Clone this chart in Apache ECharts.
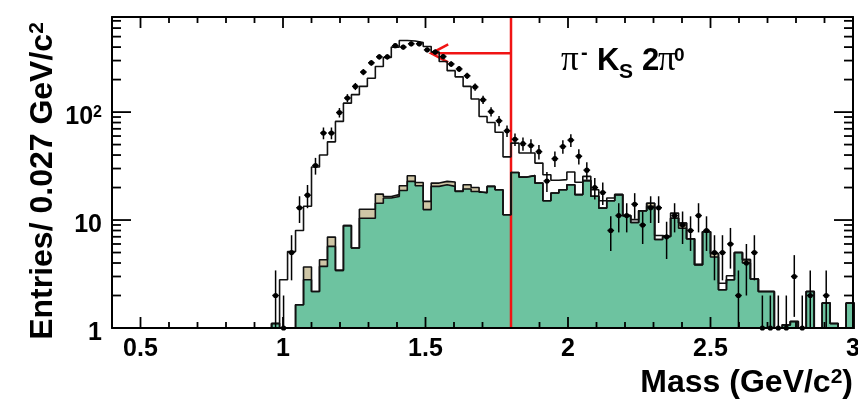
<!DOCTYPE html>
<html><head><meta charset="utf-8">
<script src="https://cdn.jsdelivr.net/npm/echarts@6/dist/echarts.min.js"></script>
<style>html,body{margin:0;padding:0;background:#fff}#c{width:858px;height:402px}</style>
</head><body><div id="c"></div>
<script>
// ---- binning ----
const BIN_START = 0.4;
const BIN_WIDTH = 0.028;
const FIRST_BIN = 20;          // index of first listed bin
// ---- values per bin (bins FIRST_BIN .. FIRST_BIN+72) ----
const dataCounts = [2,1,5,13,17,32,64,64,99,135,
  173,235,286,325,325,412,400,429,429,377,
  360,327,279,251,217,171,130,101,83,67,
  56,51,49,43,23,37,48,55,39,29,
  20,18,8,11,11,14,9,13,13,7,
  11,9,8,11,8,5,5,6,2,4,
  5,1,1,1,1,3,1,2,0,2,
  0,0,0];
const mcTotal = [1.1,2.8,5.1,8.0,13.4,31,40,53,82,121,
  145,173,206,264,320,400,460,456,440,405,
  360,294,242,212,173,132,91,80,65,38.5,
  51.6,41.8,41.8,33.7,26.3,23.4,23.7,27.9,22.4,25.4,
  19.1,15.1,16.0,17.2,11.0,10.1,12.2,14.3,7.2,7.05,
  11.6,9.4,6.7,3.86,7.8,4.9,2.6,3.05,5.0,4.3,
  2.84,2.18,2.18,0,1.07,1.15,0,2.18,0,1.7,
  1.1,0,1.7];
const bkgGreen = [1.1,0,0,1.64,2.8,2.18,3.72,5.7,3.42,8.88,
  5.5,10.4,10.4,14.3,16.0,16.5,18.8,22.8,20.8,12.5,
  20.5,21.2,20.5,18.4,19.4,18.4,17.8,20.5,19.1,11.2,
  27.6,25.0,25.8,22.0,15.1,17.8,19.1,21.2,17.2,23.2,
  16.6,12.9,15.1,17.2,11.0,9.5,12.2,13.4,6.6,7.05,
  10.4,8.4,6.7,3.86,7.8,4.54,2.26,2.8,5.0,4.0,
  2.84,2.18,2.18,0,1.07,1.15,0,2.18,0,1.7,
  1.1,0,1.7];
const bkgTan = [0,0,0,0,0.87,0,0.57,1.25,0,0,
  0,2.2,2.2,3.1,0.5,0.7,2.0,2.9,1.5,2.4,
  1.5,1.6,2.0,0.2,1.8,1.6,0.3,0,0,0,
  0,0,0,0,0,0,0,0,0,0,
  0,0,0,0,0,0,0,0.9,0,0,
  0,1.0,0,0,0,0.36,0,0,0,0.3,
  0,0,0,0,0,0,0,0,0,0,
  0,0,0];
// ---- axes ----
const X_MIN = 0.4, X_MAX = 3.0, Y_MIN = 1, Y_MAX = 760;
const xMajorTicks = [0.5, 1, 1.5, 2, 2.5, 3];
const xMinorTicks = [0.4,0.6,0.7,0.8,0.9,1.1,1.2,1.3,1.4,1.6,1.7,1.8,1.9,2.1,2.2,2.3,2.4,2.6,2.7,2.8,2.9];
const yMajorTicks = [1, 10, 100];
const yMinorTicks = [2,3,4,5,6,7,8,9,20,30,40,50,60,70,80,90,200,300,400,500,600,700];
// ---- annotation ----
const CUT_MASS = 1.8;
const ARROW_END = 1.52;
const ARROW_LEVEL = 350;

const FONT = 'Liberation Sans';
const FLOOR = 0.1; // empty bins are drawn below the frame bottom (clipped)

function edge(j) { return +(BIN_START + j * BIN_WIDTH).toFixed(4); }
function histPath(vals) {
  const pts = [[edge(FIRST_BIN), FLOOR]];
  vals.forEach((v, i) => {
    const y = v > 0 ? v : FLOOR;
    pts.push([edge(FIRST_BIN + i), y], [edge(FIRST_BIN + i + 1), y]);
  });
  pts.push([edge(FIRST_BIN + vals.length), FLOOR]);
  return pts;
}
const tanTop = bkgGreen.map((g, i) => g + bkgTan[i]);

function histSeries(vals, fill) {
  const s = { type: 'line', data: histPath(vals), symbol: 'none', showSymbol: false, clip: true,
    silent: true, animation: false, lineStyle: { color: '#111', width: 1.6 } };
  if (fill) s.areaStyle = { color: fill, origin: 'start', opacity: 1 };
  return s;
}

const pointData = [];
dataCounts.forEach((n, i) => {
  if (n > 0) pointData.push([edge(FIRST_BIN + i) + BIN_WIDTH / 2, n, Math.sqrt(n)]);
});

function xAx(pos, withLabels) {
  return { type: 'value', min: X_MIN, max: X_MAX, position: pos, z: 10,
    axisLine: { show: true, onZero: false, lineStyle: { color: '#000', width: 2 } },
    axisTick: { show: false },
    axisLabel: withLabels ? { show: true, customValues: xMajorTicks, margin: 9,
      fontFamily: FONT, fontWeight: 'bold', fontSize: 25, color: '#000',
      formatter: v => String(v) } : { show: false },
    splitLine: { show: false } };
}
function yAx(pos, withLabels) {
  return { type: 'log', logBase: 10, min: Y_MIN, max: Y_MAX, position: pos, z: 10,
    axisLine: { show: true, onZero: false, lineStyle: { color: '#000', width: 2 } },
    axisTick: { show: false },
    axisLabel: withLabels ? { show: true, customValues: yMajorTicks, margin: 10, padding: [10, 0, 0, 0],
      formatter: v => { const p = Math.round(Math.log10(v)); return p >= 2 ? '{n|10}{s|' + p + '}' : '{n|' + Math.round(v) + '}'; },
      rich: { n: { fontFamily: FONT, fontWeight: 'bold', fontSize: 25, color: '#000' },
              s: { fontFamily: FONT, fontWeight: 'bold', fontSize: 16, color: '#000', verticalAlign: 'top' } } } : { show: false },
    splitLine: { show: false } };
}

const titleRich = {
  a: { fontFamily: FONT, fontWeight: 'bold', fontSize: 32, fill: '#000', color: '#000' },
  s: { fontFamily: FONT, fontWeight: 'bold', fontSize: 21, fill: '#000', color: '#000', verticalAlign: 'top' }
};

// one decoration series: inward frame ticks on all four sides + the red cut line and arrow
function decorItem(params, api) {
  const ch = [];
  const tk = { stroke: '#000', lineWidth: 1.8 };
  const xt = (ticks, len) => ticks.forEach(v => {
    const b = api.coord([v, Y_MIN]), t = api.coord([v, Y_MAX]);
    ch.push({ type: 'line', shape: { x1: b[0], y1: b[1], x2: b[0], y2: b[1] - len }, style: tk });
    ch.push({ type: 'line', shape: { x1: t[0], y1: t[1], x2: t[0], y2: t[1] + len }, style: tk });
  });
  const yt = (ticks, len) => ticks.forEach(v => {
    const l = api.coord([X_MIN, v]), r = api.coord([X_MAX, v]);
    ch.push({ type: 'line', shape: { x1: l[0], y1: l[1], x2: l[0] + len, y2: l[1] }, style: tk });
    ch.push({ type: 'line', shape: { x1: r[0], y1: r[1], x2: r[0] - len, y2: r[1] }, style: tk });
  });
  xt(xMajorTicks, 11); xt(xMinorTicks, 6);
  yt(yMajorTicks, 19); yt(yMinorTicks, 9);
  const x = api.value(0), lvl = api.value(1), xe = api.value(2);
  const b = api.coord([x, Y_MIN]), t = api.coord([x, Y_MAX]);
  const a0 = api.coord([x, lvl]), a1 = api.coord([xe, lvl]);
  const st = { stroke: '#f01414', lineWidth: 2.5, fill: null };
  ch.push({ type: 'line', shape: { x1: b[0], y1: b[1], x2: t[0], y2: t[1] }, style: st });
  ch.push({ type: 'line', shape: { x1: a0[0], y1: a0[1], x2: a1[0], y2: a1[1] }, style: st });
  ch.push({ type: 'polyline', shape: { points: [[a1[0] + 17, a1[1] - 9], [a1[0], a1[1]], [a1[0] + 17, a1[1] + 9]] }, style: st });
  return { type: 'group', children: ch };
}

const option = {
  animation: false,
  backgroundColor: '#fff',
  grid: { left: 112, right: 5, top: 17, bottom: 74, containLabel: false, outerBoundsMode: 'none' },
  xAxis: [ xAx('bottom', true), xAx('top', false) ],
  yAxis: [ yAx('left', true), yAx('right', false) ],
  series: [
    histSeries(mcTotal, null),
    histSeries(tanTop, '#cfc6a6'),
    histSeries(bkgGreen, '#6dc3a0'),
    { type: 'custom', animation: false, z: 3, data: [[CUT_MASS, ARROW_LEVEL, ARROW_END]], renderItem: decorItem },
    { type: 'custom', animation: false, z: 4,
      data: pointData,
      renderItem: (params, api) => {
        const x = api.value(0), n = api.value(1), e = api.value(2);
        const c = api.coord([x, n]);
        const top = api.coord([x, Math.min(n + e, Y_MAX)]);
        const bot = api.coord([x, Math.max(n - e, Y_MIN)]);
        const l = api.coord([x - BIN_WIDTH * 0.42, n]), r = api.coord([x + BIN_WIDTH * 0.42, n]);
        const st = { stroke: '#000', lineWidth: 1.5 };
        return { type: 'group', children: [
          { type: 'line', shape: { x1: c[0], y1: top[1], x2: c[0], y2: bot[1] }, style: st },
          { type: 'line', shape: { x1: l[0], y1: c[1], x2: r[0], y2: c[1] }, style: st },
          { type: 'circle', shape: { cx: c[0], cy: c[1], r: 2.6 }, style: { fill: '#000' } }
        ] };
      } }
  ],
  graphic: [
    { type: 'text', x: 43, y: 181, rotation: Math.PI / 2, z: 20,
      style: { text: '{a|Entries/ 0.027 GeV/c}{s|2}', rich: titleRich, align: 'center', verticalAlign: 'middle' } },
    { type: 'text', x: 853, y: 383, z: 20,
      style: { text: '{a|Mass (GeV/c}{s|2}{a|)}', rich: titleRich, align: 'right', verticalAlign: 'middle' } },
    { type: 'text', x: 561, y: 60.5, z: 20, style: { text: 'π', font: '35px "Liberation Serif"', fill: '#000', align: 'left', verticalAlign: 'middle' } },
    { type: 'text', x: 581, y: 53, z: 20, style: { text: '-', font: 'bold 20px "Liberation Sans"', fill: '#000', align: 'left', verticalAlign: 'middle' } },
    { type: 'text', x: 597, y: 61.6, z: 20, style: { text: 'K', font: 'bold 31px "Liberation Sans"', fill: '#000', align: 'left', verticalAlign: 'middle' } },
    { type: 'text', x: 619, y: 72.7, z: 20, style: { text: 'S', font: 'bold 21px "Liberation Sans"', fill: '#000', align: 'left', verticalAlign: 'middle' } },
    { type: 'text', x: 642, y: 61.6, z: 20, style: { text: '2', font: 'bold 31px "Liberation Sans"', fill: '#000', align: 'left', verticalAlign: 'middle' } },
    { type: 'text', x: 658, y: 60.5, z: 20, style: { text: 'π', font: '35px "Liberation Serif"', fill: '#000', align: 'left', verticalAlign: 'middle' } },
    { type: 'text', x: 674, y: 55.4, z: 20, style: { text: '0', font: 'bold 19px "Liberation Sans"', fill: '#000', align: 'left', verticalAlign: 'middle' } }
  ]
};
const chart = echarts.init(document.getElementById('c'));
chart.setOption(option);
</script></body></html>
